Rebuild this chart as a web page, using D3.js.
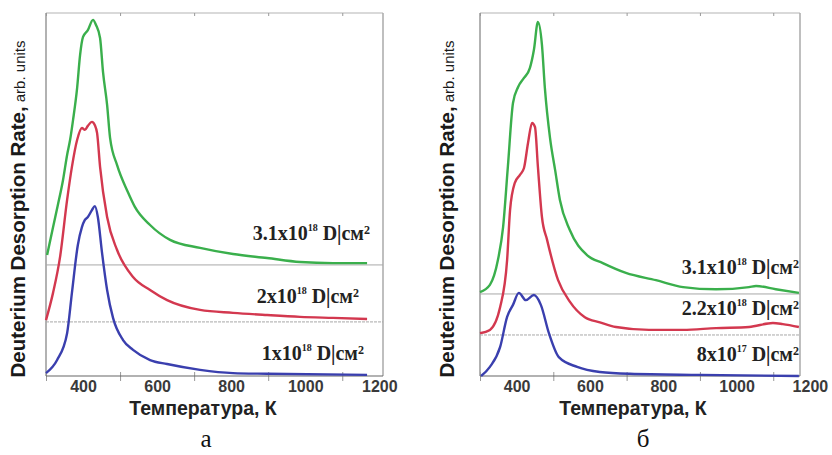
<!DOCTYPE html>
<html>
<head>
<meta charset="utf-8">
<script src="https://cdn.jsdelivr.net/npm/d3@7"></script>
<style>
  body { margin: 0; background: #fff; }
  svg { display: block; }
</style>
</head>
<body>
<div id="chart"></div>
<script>
// tick marks / tick labels on the temperature axis
const tickMarks = [300, 500, 700, 900, 1100];
const tickLabels = [400, 600, 800, 1000, 1200];

// panel "а" — [temperature K, signal arb. units]
const aGreen = [[303,33.3],[319,41.0],[332,47.1],[346,54.0],[357,60.9],[365,65.0],[373,70.5],[384,79.3],[392,88.4],[400,93.4],[413,95.3],[427,98.1],[435,96.7],[446,93.1],[454,83.7],[465,74.7],[473,65.6],[492,58.1],[521,50.7],[540,46.6],[581,41.6],[635,37.5],[716,35.3],[805,33.6],[897,32.5],[986,31.4],[1075,31.1],[1167,31.1]];
const aRed = [[300,15.4],[319,22.9],[338,32.8],[357,48.5],[370,57.6],[384,65.0],[397,68.3],[405,67.8],[413,68.9],[424,70.0],[432,69.1],[438,66.9],[446,57.6],[465,43.8],[492,34.7],[535,27.3],[581,23.7],[627,20.9],[716,18.2],[805,17.4],[897,16.8],[986,16.3],[1075,16.0],[1167,15.7]];
const aBlue = [[300,0.8],[330,4.4],[357,11.8],[370,22.9],[386,36.1],[397,41.0],[405,43.0],[413,43.8],[424,45.7],[432,46.8],[440,43.8],[451,34.2],[465,23.7],[481,16.0],[508,9.9],[535,7.2],[581,4.4],[627,3.3],[716,1.7],[805,0.8],[897,0.6],[1167,0.3]];
const aBaselines = [30.6, 14.9];
const aDoseMant = ["3.1x10", "2x10", "1x10"];
const aDoseExp = ["18", "18", "18"];

// panel "б"
const bGreen = [[300,23.1],[327,25.1],[349,32.0],[363,41.0],[376,57.6],[390,75.2],[404,79.6],[420,82.1],[436,84.8],[447,89.8],[458,97.5],[469,91.2],[477,79.3],[491,65.6],[505,56.7],[518,48.5],[545,40.2],[592,33.3],[635,31.1],[698,28.4],[780,26.4],[854,24.5],[944,23.9],[1034,24.5],[1053,24.8],[1107,23.9],[1170,22.9]];
const bRed = [[300,11.8],[327,12.7],[355,19.0],[374,32.0],[382,45.7],[395,53.2],[409,55.4],[420,57.3],[431,64.2],[442,69.7],[450,68.6],[458,57.6],[469,43.8],[483,37.5],[513,26.4],[545,20.5],[586,16.2],[627,14.8],[671,13.5],[761,12.7],[854,12.7],[944,13.2],[1034,13.5],[1099,14.6],[1126,14.3],[1170,13.5]];
const bBlue = [[303,0],[327,2.5],[355,8.0],[374,16.3],[390,19.6],[406,22.9],[425,20.9],[447,22.3],[466,19.6],[488,11.8],[515,5.2],[565,2.5],[627,1.1],[709,0.6],[900,0.3],[1170,0]];
const bBaselines = [22.6, 11.3];
const bDoseMant = ["3.1x10", "2.2x10", "8x10"];
const bDoseExp = ["18", "18", "17"];

const colors = ["#3aaf4c", "#d3384f", "#3a3fae"];

const svg = d3.select('#chart').append('svg')
  .attr('width', 832)
  .attr('height', 455);

function drawPanel(p) {
  const x = d3.scaleLinear().domain(p.xDomain).range([p.left, p.right]);
  const y = d3.scaleLinear().domain([0, 100]).range([376, 13]);
  const g = svg.append('g');

  // frame
  g.append('line').attr('x1', p.left).attr('x2', p.right).attr('y1', 13).attr('y2', 13)
    .attr('stroke', '#ccc').attr('stroke-width', 1.5);
  g.append('line').attr('x1', p.right).attr('x2', p.right).attr('y1', 13).attr('y2', 376)
    .attr('stroke', '#aaa').attr('stroke-width', 1.5);
  g.append('line').attr('x1', p.left).attr('x2', p.left).attr('y1', 13).attr('y2', 376)
    .attr('stroke', '#999').attr('stroke-width', 1.5);

  // baselines of shifted curves
  g.selectAll('.base')
    .data(p.baselines)
    .enter()
    .append('line')
    .attr('x1', p.left)
    .attr('x2', p.right)
    .attr('y1', d => y(d))
    .attr('y2', d => y(d))
    .attr('stroke', '#a8a8a8')
    .attr('stroke-width', 1)
    .attr('stroke-dasharray', (d, i) => i === 1 ? '3,1' : null);

  // tick marks (bottom, both directions) and top
  const markOut = g.append('g').attr('transform', 'translate(0,376)')
    .call(d3.axisBottom(x).tickValues(tickMarks).tickSize(5).tickFormat(''));
  const markIn = g.append('g').attr('transform', 'translate(0,376)')
    .call(d3.axisTop(x).tickValues(tickMarks).tickSize(4).tickFormat(''));
  const markTop = g.append('g').attr('transform', 'translate(0,13)')
    .call(d3.axisBottom(x).tickValues(tickMarks).tickSize(3).tickFormat(''));
  [markOut, markIn, markTop].forEach(a => {
    a.select('.domain').remove();
    a.selectAll('line').attr('stroke', '#999');
  });

  // tick labels
  const labels = g.append('g').attr('transform', 'translate(0,376)')
    .call(d3.axisBottom(x).tickValues(tickLabels).tickSize(0).tickPadding(5).tickFormat(d3.format('d')));
  labels.select('.domain').remove();
  labels.selectAll('text')
    .attr('font-family', 'Liberation Sans, Arial, sans-serif')
    .attr('font-size', 16)
    .attr('font-weight', 'bold')
    .attr('fill', '#3a3a3a');

  // bottom axis line
  g.append('line').attr('x1', p.left).attr('x2', p.right).attr('y1', 376).attr('y2', 376)
    .attr('stroke', '#666').attr('stroke-width', 1.2);

  // curves
  const line = d3.line()
    .x(d => x(d[0]))
    .y(d => y(d[1]))
    .curve(d3.curveMonotoneX);

  p.series.forEach((s, i) => {
    g.append('path')
      .datum(s)
      .attr('fill', 'none')
      .attr('stroke', colors[i])
      .attr('stroke-width', 2.4)
      .attr('stroke-linejoin', 'round')
      .attr('d', line);
  });

  // dose annotations
  p.mant.forEach((m, i) => {
    const t = g.append('text')
      .attr('x', p.labelX[i])
      .attr('y', p.labelY[i])
      .attr('text-anchor', 'end')
      .attr('font-family', 'Liberation Serif, Times New Roman, serif')
      .attr('font-weight', 'bold')
      .attr('font-size', 20)
      .attr('fill', '#222');
    t.append('tspan').text(m);
    t.append('tspan').attr('font-size', 10).attr('dy', -9).text(p.exp[i]);
    t.append('tspan').attr('dy', 9).text((p.gap[i] || ' ') + 'D|см');
    t.append('tspan').attr('font-size', 12).attr('dy', -6).text('2');
  });

  // y label
  const yl = g.append('text')
    .attr('transform', `translate(${p.yLabelX},209) rotate(-90)`)
    .attr('text-anchor', 'middle')
    .attr('font-family', 'Liberation Sans, Arial, sans-serif')
    .attr('fill', '#1a1a1a');
  yl.append('tspan').attr('font-size', 20.5).attr('font-weight', 'bold').text('Deuterium Desorption Rate,');
  yl.append('tspan').attr('font-size', 15).text(' arb. units');

  // x label
  g.append('text')
    .attr('x', p.xLabelX)
    .attr('y', 415)
    .attr('text-anchor', 'middle')
    .attr('font-family', 'Liberation Sans, Arial, sans-serif')
    .attr('font-size', 19.5)
    .attr('font-weight', 'bold')
    .attr('fill', '#222')
    .text('Температура, К');

  // panel letter
  g.append('text')
    .attr('x', p.letterX)
    .attr('y', 447)
    .attr('text-anchor', 'middle')
    .attr('font-family', 'Liberation Serif, Times New Roman, serif')
    .attr('font-size', 25)
    .attr('fill', '#111')
    .text(p.letter);
}

drawPanel({
  xDomain: [300, 1210], left: 46, right: 383,
  series: [aGreen, aRed, aBlue], baselines: aBaselines,
  mant: aDoseMant, exp: aDoseExp, gap: [' ', ' ', '  '],
  labelX: [370, 359, 364], labelY: [240, 303, 360],
  yLabelX: 25, xLabelX: 203, letterX: 206, letter: 'а'
});

drawPanel({
  xDomain: [300, 1173], left: 480, right: 800,
  series: [bGreen, bRed, bBlue], baselines: bBaselines,
  mant: bDoseMant, exp: bDoseExp, gap: [' ', ' ', ' '],
  labelX: [799, 799, 799], labelY: [274, 315, 361],
  yLabelX: 454, xLabelX: 633, letterX: 643, letter: 'б'
});
</script>
</body>
</html>
